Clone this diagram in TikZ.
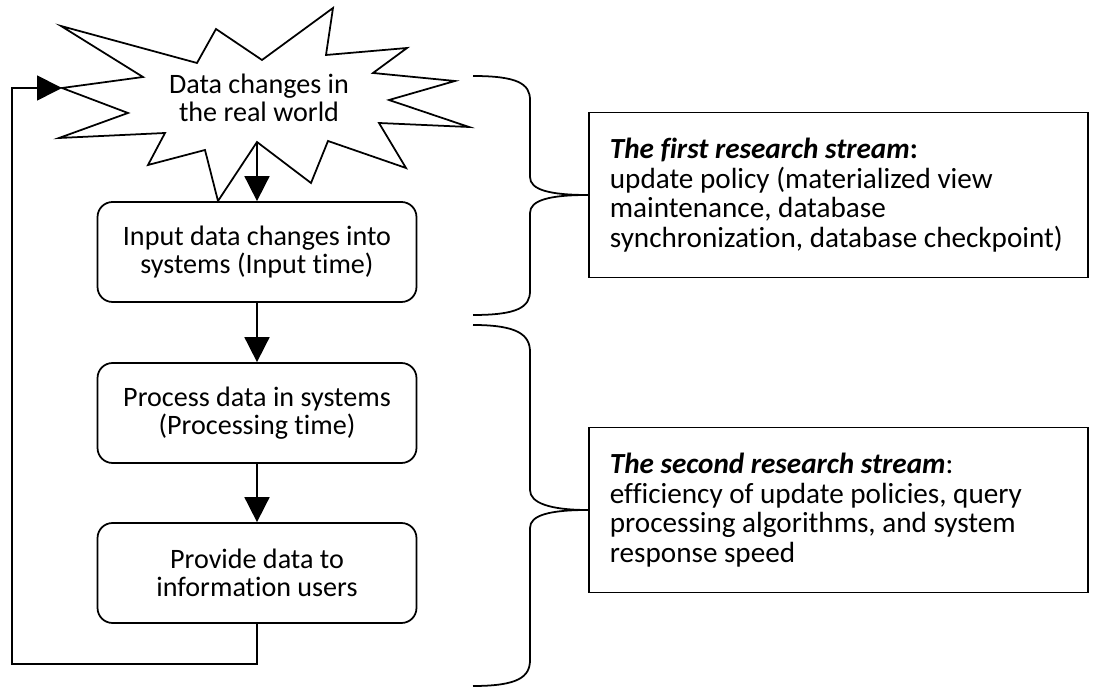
\documentclass[tikz,border=0pt]{standalone}
\usepackage{fontspec}
\setmainfont{Carlito}[Ligatures=NoCommon]
\usetikzlibrary{arrows.meta}

\begin{document}
\begin{tikzpicture}
  [x=0.02cm,y=-0.02cm,line width=1pt,font=\fontsize{16}{16}\selectfont,
   flow/.style={draw,rounded corners=0.3cm,minimum width=6.38cm,minimum height=2cm,align=center},
   stream/.style={draw,anchor=west,minimum width=9.98cm,minimum height=3.3cm,inner xsep=0.42cm,text width=9.14cm,
     align=flush left,font=\fontsize{16.6}{16.8}\selectfont},
   tip/.style={-{Triangle[width=0.5cm,length=0.5cm]}}]
  \useasboundingbox (0,0) rectangle (1096,688);

  \draw (61,26) -- (197,63) -- (216,29) -- (262,60) -- (333,8) -- (326,55) -- (407,48) -- (373,73)
    -- (455,81) -- (389,100) -- (469,127) -- (379,123) -- (406,168) -- (328,141) -- (311,183)
    -- (257,142) coordinate (burst) -- (218,201) -- (205,150) -- (148,165) -- (165,133) -- (59,138)
    -- (128,113) -- (62,88) coordinate (left) -- (143,77) -- cycle;
  \node[align=center] (real) at (259,98) {Data changes in\\the real world};

  \node[flow] (input)   at (257,252) {Input data changes into\\systems (Input time)};
  \node[flow] (process) at (257,413) {Process data in systems\\(Processing time)};
  \node[flow] (provide) at (257,573) {Provide data to\\information users};

  \node[stream] (first)  at (588,195) {\textbf{\textit{The first research stream}:}\\update policy (materialized view\\maintenance, database\\synchronization, database checkpoint)};
  \node[stream] (second) at (588,510) {\textbf{\textit{The second research stream}}:\\efficiency of update policies, query\\processing algorithms, and system\\response speed};

  \foreach \from/\to in {burst/input,input/process,process/provide}
    \draw[tip] (\from) -- (\to);
  \draw[tip] (provide.south) -- ++(0,40) -| (12,88) -- (left);

  \draw (473,76) .. controls (518,76) and (530,84) .. (530,100) -- (530,177)
    .. controls (530,190) and (550,195) .. (first.west)
    .. controls (550,195) and (530,200) .. (530,213) -- (530,291)
    .. controls (530,307) and (518,315) .. (473,315);
  \draw (473,325) .. controls (518,325) and (530,335) .. (530,352) -- (530,490)
    .. controls (530,503) and (550,510) .. (second.west)
    .. controls (550,510) and (530,515) .. (530,528) -- (530,660)
    .. controls (530,677) and (518,686) .. (473,686);
\end{tikzpicture}
\end{document}
